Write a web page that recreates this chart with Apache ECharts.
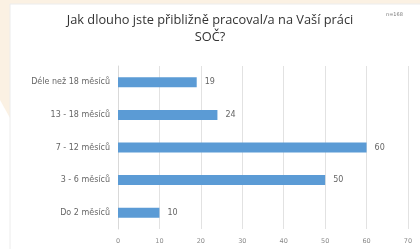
<!DOCTYPE html>
<html>
<head>
<meta charset="utf-8">
<script src="https://cdn.jsdelivr.net/npm/echarts@6/dist/echarts.min.js"></script>
<style>
  html, body { margin: 0; padding: 0; background: #fff; }
  #chart { width: 420px; height: 249px; }
</style>
</head>
<body>
<div id="chart"></div>
<script>
// data
const categories = ['Do 2 měsíců', '3 - 6 měsíců', '7 - 12 měsíců', '13 - 18 měsíců', 'Déle než 18 měsíců']
const counts = [10, 50, 60, 24, 19]
const titleText = 'Jak dlouho jste přibližně pracoval/a na Vaší práci\nSOČ?'
const noteText = 'n=168'

const chart = echarts.init(document.getElementById('chart'))
chart.setOption({
  animation: false,
  backgroundColor: '#fff',
  graphic: [
    // beige page behind the slide
    { type: 'rect', shape: { x: 0, y: 0, width: 420, height: 4 }, style: { fill: '#fbf1e3' }, z: -10 },
    { type: 'polygon', shape: { points: [[0, 0], [10, 0], [10, 118], [0, 100]] }, style: { fill: '#fbf1e3' }, z: -10 },
    { type: 'rect', shape: { x: 10, y: 4, width: 412, height: 247 }, style: { fill: 'none', stroke: '#ececec', lineWidth: 1 }, z: -9 },
    {
      type: 'text', left: 386, top: 12,
      style: { text: noteText, fontSize: 5, fill: '#777', fontFamily: 'DejaVu Sans' }
    }
  ],
  title: {
    text: titleText,
    left: 'center',
    top: 7,
    textStyle: {
      fontFamily: 'Open Sans',
      fontSize: 12.8,
      fontWeight: 'normal',
      color: '#333',
      lineHeight: 17
    }
  },
  grid: { left: 118, right: 12, top: 66, bottom: 20, containLabel: false },
  xAxis: {
    type: 'value',
    min: 0,
    max: 70,
    interval: 10,
    axisLine: { show: false },
    axisTick: { show: false },
    axisLabel: { fontSize: 6.5, color: '#8a8a8a', fontFamily: 'DejaVu Sans', margin: 9 },
    splitLine: { lineStyle: { color: '#e2e2e2', width: 1 } }
  },
  yAxis: {
    type: 'category',
    data: categories,
    axisLine: { lineStyle: { color: '#d9d9d9' } },
    axisTick: { show: false },
    axisLabel: { fontSize: 8, color: '#666', fontFamily: 'DejaVu Sans', margin: 8 }
  },
  series: [{
    type: 'bar',
    data: counts,
    barWidth: 10,
    itemStyle: { color: '#5b9bd5' },
    label: {
      show: true,
      position: 'right',
      distance: 8,
      fontSize: 8,
      color: '#666',
      fontFamily: 'DejaVu Sans'
    }
  }]
})
</script>
</body>
</html>
